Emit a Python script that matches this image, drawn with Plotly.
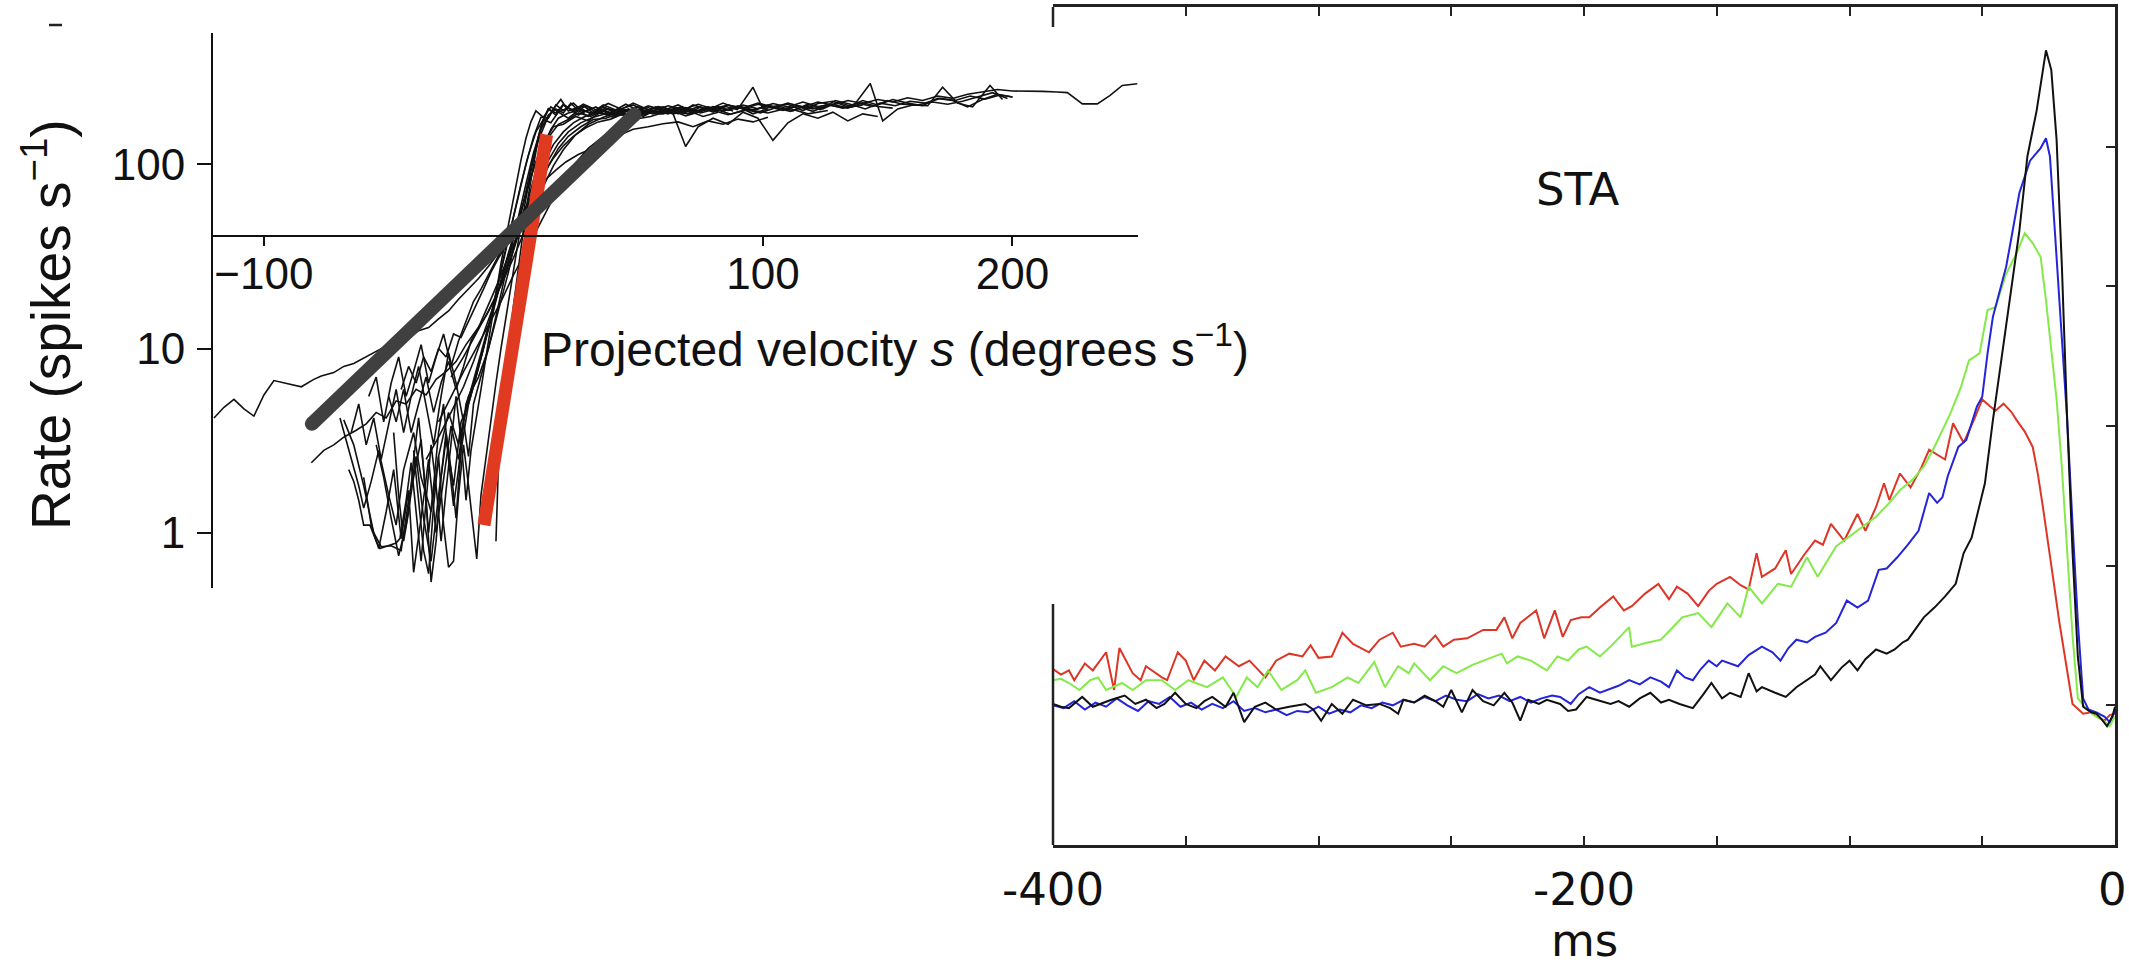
import plotly.graph_objects as go

W, H = 2129, 969

# ---------------- Left panel: rate (spikes/s) vs projected velocity s ----------------
TRACE_01 = [(-120, 4.2), (-116, 4.8), (-112, 5.3), (-108, 4.7), (-104, 4.3), (-100, 5.6), (-96, 6.7), (-92, 6.5),
            (-88, 6.3), (-85, 6.2), (-80, 6.8), (-77, 7.1), (-72, 7.4), (-68, 8.0), (-64, 8.3), (-59, 9.0),
            (-55, 9.6), (-50, 10.5), (-46, 11.0), (-42, 11.3), (-38, 12.5), (-34, 13.0), (-30, 14.5), (-26, 16),
            (-22, 18.5), (-18, 21), (-14, 24), (-10, 28), (-6, 33), (-2, 39), (2, 47), (6, 60), (10, 80),
            (14, 105), (18, 130), (22, 150), (27, 168), (32, 180), (38, 190), (44, 185), (50, 198), (56, 188),
            (62, 200), (68, 192), (74, 205), (80, 195), (86, 210), (92, 200), (98, 212), (104, 203), (110, 215),
            (116, 205), (122, 218), (128, 210), (134, 222), (140, 214), (146, 225), (152, 218), (158, 230),
            (164, 222), (170, 235), (176, 228), (182, 240), (188, 248), (194, 255), (200, 250), (206, 250),
            (212, 249), (218, 247), (222, 245), (228, 213), (234, 213), (239, 236), (244, 268), (250, 274)]
TRACE_02 = [(-81, 2.4), (-76, 2.8), (-72, 3.0), (-68, 3.3), (-63, 3.6), (-59, 3.9), (-55, 4.5), (-51, 4.2),
            (-47, 5.2), (-43, 5.0), (-39, 6.0), (-35, 5.6), (-31, 6.8), (-27, 7.5), (-23, 8.5), (-19, 10.5),
            (-15, 12.5), (-11, 15), (-7, 19), (-3, 26), (0, 34), (3, 46), (6, 65), (9, 92), (12, 125), (15, 155),
            (18, 178), (22, 190), (27, 198), (32, 188), (38, 200), (44, 192), (50, 205), (56, 195), (62, 208),
            (68, 198), (74, 212), (80, 200), (86, 210), (92, 202), (98, 215), (104, 205), (110, 212), (116, 196),
            (122, 214), (128, 220), (134, 205), (140, 222), (146, 210), (152, 225), (158, 215), (164, 208),
            (170, 228), (176, 222), (182, 205), (188, 225), (194, 240), (200, 232)]
TRACE_03 = [(-69.5, 4.2), (-66, 2.8), (-62, 1.8), (-60, 1.36), (-57, 1.9), (-54, 2.8), (-50, 1.6), (-47, 1.1),
            (-44, 2.2), (-40, 3.5), (-37, 2.0), (-33, 1.3), (-30, 2.6), (-26, 4.5), (-22, 3.0), (-18, 5.5),
            (-14, 7), (-10, 10), (-6, 16), (-2, 26), (1, 40), (4, 62), (7, 95), (10, 135), (13, 170), (16, 200),
            (19, 225), (22, 195), (26, 205), (31, 188), (36, 210), (42, 195), (48, 215), (54, 198), (60, 205),
            (66, 188), (72, 210), (78, 198), (84, 215), (90, 200), (96, 262), (100, 200), (106, 208), (112, 195),
            (118, 212), (124, 200), (130, 218), (136, 205), (143, 275), (148, 172), (154, 200), (160, 210),
            (166, 208), (172, 262), (178, 215), (184, 205), (191, 268), (196, 225)]
TRACE_04 = [(-68, 4.1), (-64, 3.0), (-60, 1.8), (-56, 1.0), (-53, 0.84), (-49, 0.85), (-45, 0.8), (-42, 1.5),
            (-39, 2.6), (-36, 1.2), (-33, 0.7), (-30, 1.6), (-27, 3.2), (-24, 1.8), (-21, 4.0), (-18, 5.0),
            (-15, 7), (-12, 10), (-8, 16), (-4, 26), (0, 40), (4, 62), (8, 95), (12, 130), (16, 160), (20, 165),
            (25, 182), (30, 172), (35, 192), (40, 180), (46, 196), (52, 185), (58, 200), (64, 188), (69, 125),
            (74, 160), (80, 178), (86, 165), (92, 192), (98, 178), (104, 135), (110, 168), (116, 188), (122, 178),
            (128, 192), (134, 172), (140, 188), (146, 182)]
TRACE_05 = [(-60, 2.0), (-57, 1.1), (-54, 0.82), (-51, 1.3), (-48, 2.2), (-45, 0.93), (-42, 1.7), (-40, 0.61),
            (-37, 1.2), (-34, 2.5), (-31, 1.0), (-28, 2.0), (-25, 3.8), (-22, 2.5), (-19, 5.0), (-16, 6.5),
            (-13, 9), (-10, 13), (-7, 20), (-4, 31), (-1, 45), (2, 68), (5, 100), (8, 140), (11, 180), (14, 178),
            (17, 210), (20, 196), (24, 215), (28, 192), (33, 205), (38, 188), (43, 200), (48, 192), (54, 208),
            (60, 196), (66, 210), (72, 192), (78, 204), (84, 195), (90, 206), (96, 188), (102, 200)]
TRACE_06 = [(-55, 3.0), (-52, 2.0), (-49, 1.2), (-46, 0.75), (-43, 1.1), (-40, 2.0), (-37, 3.2), (-35, 1.5),
            (-33, 0.54), (-31, 0.9), (-29, 2.0), (-27, 3.5), (-25, 2.2), (-23, 1.2), (-21, 2.8), (-18, 5.0),
            (-15, 7), (-12, 10), (-9, 15), (-6, 23), (-3, 35), (0, 52), (3, 78), (6, 112), (9, 150), (12, 175),
            (15, 168), (18, 192), (22, 178), (26, 196), (30, 182), (35, 200), (40, 188), (46, 196), (52, 182),
            (58, 200), (64, 188), (70, 196), (76, 182), (82, 192)]
TRACE_07 = [(-50, 5.5), (-47, 4.0), (-44, 6.0), (-41, 3.5), (-38, 5.0), (-35, 7.0), (-32, 4.5), (-29, 6.5),
            (-26, 8.5), (-23, 6.0), (-20, 8.0), (-17, 11), (-14, 13), (-11, 16), (-8, 20), (-5, 25), (-2, 32),
            (2, 42), (6, 56), (10, 75), (14, 98), (18, 122), (22, 142), (27, 160), (32, 175), (37, 178), (42, 188),
            (48, 182), (54, 195), (60, 188), (66, 200), (72, 190), (78, 202), (84, 195), (90, 204), (96, 196),
            (102, 210), (108, 200), (114, 206), (120, 194), (126, 210), (132, 203), (138, 215), (144, 206),
            (150, 222), (156, 212), (162, 210), (168, 218), (174, 212), (180, 220), (186, 232), (192, 245),
            (198, 228)]
TRACE_08 = [(-45, 6.0), (-42, 8.0), (-39, 6.5), (-36, 9.0), (-33, 7.5), (-30, 10), (-27, 9), (-24, 12),
            (-21, 11.5), (-18, 14), (-15, 17), (-12, 21), (-9, 26), (-6, 31), (-2, 38), (2, 47), (6, 57),
            (10, 70), (13, 83), (17, 93), (21, 103), (26, 113), (31, 121), (36, 132), (42, 143), (48, 155),
            (54, 160), (60, 166), (66, 170), (72, 160), (78, 172), (84, 165), (90, 176), (96, 170), (102, 180)]
TRACE_09 = [(-40, 2.8), (-38, 1.5), (-36, 0.8), (-34, 0.6), (-32, 1.4), (-30, 2.6), (-28, 1.1), (-26, 0.65),
            (-24, 0.7), (-22, 1.6), (-20, 3.0), (-18, 1.8), (-16, 1.0), (-14.7, 0.72), (-13, 1.6), (-11, 2.6),
            (-9, 4.0), (-7, 6.5), (-5, 10), (-3, 15), (-1, 22), (1, 32), (3, 46), (5, 66), (7, 92), (9, 125),
            (11, 160), (14, 200), (17, 190), (20, 212), (24, 195), (28, 208), (32, 190), (36, 205), (40, 194),
            (45, 212), (50, 196), (55, 206), (60, 192), (65, 202), (70, 188), (75, 205), (80, 192), (85, 206),
            (90, 198)]
TRACE_10 = [(-65, 3.5), (-62, 5.0), (-59, 3.0), (-56, 4.2), (-53, 2.5), (-50, 3.8), (-47, 6.0), (-44, 3.5),
            (-41, 5.5), (-38, 8.0), (-35, 5.0), (-32, 3.0), (-29, 5.5), (-26, 9.5), (-23, 6.5), (-20, 4.0),
            (-17, 6.0), (-14, 8.5), (-11, 12), (-8, 17), (-5, 24), (-2, 33), (1, 45), (4, 62), (7, 85), (10, 112),
            (14, 140), (18, 165), (22, 175), (26, 190), (31, 182), (36, 196), (41, 185), (46, 200), (51, 190),
            (57, 205), (63, 194), (69, 203), (75, 190), (81, 200), (87, 187), (93, 198), (99, 190), (105, 203),
            (111, 194), (117, 208), (123, 198), (129, 222), (135, 212), (141, 200), (147, 215), (153, 208),
            (159, 220), (165, 215), (171, 228), (177, 222), (183, 235), (189, 226), (195, 238), (200, 232)]
TRACE_11 = [(-58, 5.5), (-55, 7.0), (-52, 4.0), (-49, 6.5), (-46, 9.0), (-43, 5.5), (-40, 7.5), (-37, 10.5),
            (-34, 6.5), (-31, 9.0), (-28, 12), (-25, 8.0), (-22, 11), (-19, 14), (-16, 18), (-13, 21), (-10, 25),
            (-7, 30), (-4, 36), (0, 44), (4, 55), (8, 70), (12, 88), (16, 108), (20, 126), (24, 142), (29, 158),
            (34, 170), (39, 176), (44, 188), (50, 184), (56, 196), (62, 188), (68, 202), (74, 192), (80, 206),
            (86, 196), (92, 210), (98, 200), (104, 214), (110, 205), (116, 218), (122, 206), (128, 212),
            (134, 202), (140, 216), (146, 206), (152, 202)]
TRACE_12 = [(-48, 3.5), (-46, 1.6), (-44, 0.9), (-42, 1.3), (-40, 2.5), (-38, 4.2), (-36, 2.2), (-34, 1.0),
            (-32, 1.8), (-30, 3.5), (-28, 5.0), (-26, 2.5), (-24, 1.4), (-22, 2.2), (-20, 4.0), (-18, 2.6),
            (-16, 5.0), (-13, 7), (-10, 10), (-7, 15), (-4, 23), (-1, 35), (2, 52), (5, 78), (8, 115), (11, 155),
            (14, 185), (17, 200), (20, 190), (23, 215), (26, 196), (29, 208), (33, 192), (37, 202), (41, 188),
            (45, 198), (49, 185), (54, 196), (59, 188), (64, 195), (69, 183), (74, 192)]
TRACE_13 = [(-7, 0.9), (-6.5, 1.6), (-6, 2.4), (-5, 3.5), (-3.5, 6), (-2, 10), (0, 17), (2, 28), (4, 44),
            (6, 68), (8, 100), (10, 140), (12, 175), (14, 200), (17, 185), (20, 210), (24, 196), (28, 212),
            (33, 198), (38, 214), (43, 200), (48, 210), (53, 194), (58, 206), (63, 198), (68, 206)]
TRACE_14 = [(-66, 2.2), (-64, 1.9), (-62, 1.5), (-60, 1.1), (-57.5, 1.1), (-55, 0.9), (-53.5, 0.82), (-50, 0.85),
            (-47, 0.88), (-45.5, 0.93), (-43, 1.5), (-41, 2.4), (-39, 1.3), (-37, 0.7), (-35, 1.5), (-33, 3.0),
            (-31, 1.8), (-29, 0.9), (-27, 1.7), (-25, 3.2), (-23, 5.5), (-21, 3.2), (-19, 1.5), (-17, 2.8),
            (-15, 4.0), (-13, 6.0), (-11, 9), (-9, 13.5), (-7, 20), (-5, 29), (-3, 40), (-1, 56), (1, 78),
            (3, 105), (5, 138), (7, 170), (9, 195), (12, 180), (15, 205), (18, 192), (22, 202), (26, 185),
            (30, 198)]
TRACE_15 = [(-30, 4), (-25, 5.5), (-20, 7.5), (-15, 10), (-10, 13.5), (-5, 18), (0, 25), (5, 34), (10, 46),
            (15, 62), (20, 82), (25, 102), (30, 122), (36, 142), (42, 160), (48, 175), (55, 182), (62, 195),
            (70, 188), (78, 200), (86, 186), (94, 198), (102, 190), (110, 202), (118, 188), (126, 196)]
TRACE_16 = [(-25, 7), (-20, 9), (-15, 12), (-10, 16), (-5, 22), (0, 31), (4, 42), (8, 57), (12, 76), (16, 98),
            (20, 120), (25, 145), (30, 165), (36, 180), (42, 192), (48, 186), (54, 198), (60, 190), (66, 202),
            (72, 192), (78, 205), (84, 195), (90, 208), (96, 198), (102, 206), (108, 196), (114, 208), (120, 200),
            (126, 212), (132, 202), (140, 210)]
TRACE_17 = [(-35, 2.5), (-30, 3.3), (-25, 4.5), (-20, 6.2), (-16, 8.5), (-12, 12), (-8, 17), (-4, 25), (0, 36),
            (4, 52), (8, 74), (12, 100), (16, 128), (20, 150), (24, 168), (28, 180), (33, 192), (38, 185),
            (44, 198), (50, 190), (56, 202), (62, 192), (68, 204), (75, 194), (82, 206), (88, 195)]

BLACK_TRACES = [TRACE_01, TRACE_02, TRACE_03, TRACE_04, TRACE_05, TRACE_06, TRACE_07, TRACE_08, TRACE_09,
                TRACE_10, TRACE_11, TRACE_12, TRACE_13, TRACE_14, TRACE_15, TRACE_16, TRACE_17]

RED_FIT = [(-11.8, 1.1), (13.3, 145)]
GRAY_FIT = [(-80.8, 3.9), (48.5, 186)]

LEFT_XTICKS = [-100, 100, 200]
LEFT_XTICK_TEXT = ["\u2212100", "100", "200"]
LEFT_YTICKS = [1, 10, 100]
LEFT_YTICK_TEXT = ["1", "10", "100"]

# ---------------- Right panel: STA (ms, arbitrary units) ----------------
STA_RED = [(-400, 1.26), (-397, 1.22), (-394, 1.25), (-392, 1.18), (-388, 1.30), (-385, 1.25), (-380, 1.38),
           (-377, 1.11), (-375, 1.41), (-370, 1.23), (-367, 1.18), (-365, 1.28), (-359, 1.20), (-357, 1.18),
           (-353, 1.38), (-350, 1.32), (-347, 1.18), (-343, 1.32), (-339, 1.25), (-335, 1.35), (-330, 1.28),
           (-326, 1.32), (-320, 1.20), (-316, 1.32), (-311, 1.37), (-306, 1.35), (-303, 1.43), (-300, 1.34),
           (-295, 1.35), (-291, 1.52), (-287, 1.44), (-281, 1.38), (-277, 1.47), (-272, 1.52), (-269, 1.42),
           (-264, 1.44), (-260, 1.42), (-256, 1.50), (-253, 1.42), (-249, 1.47), (-244, 1.48), (-238, 1.54),
           (-233, 1.54), (-230, 1.63), (-227, 1.48), (-224, 1.59), (-218, 1.68), (-215, 1.48), (-211, 1.68),
           (-208, 1.49), (-205, 1.61), (-201, 1.63), (-198, 1.63), (-194, 1.70), (-189, 1.78), (-185, 1.68),
           (-182, 1.71), (-177, 1.80), (-172, 1.87), (-168, 1.76), (-165, 1.85), (-161, 1.80), (-157, 1.71),
           (-153, 1.82), (-150, 1.87), (-145, 1.92), (-141, 1.86), (-138, 1.83), (-135, 2.09), (-133, 1.92),
           (-128, 1.98), (-124, 2.11), (-122, 1.94), (-117, 2.08), (-113, 2.18), (-110, 2.15), (-107, 2.30),
           (-102, 2.18), (-97, 2.37), (-94, 2.25), (-90, 2.42), (-87, 2.59), (-85, 2.47), (-81, 2.66),
           (-77, 2.56), (-73, 2.70), (-70, 2.83), (-64, 2.76), (-61, 3.02), (-57, 2.88), (-53, 3.05),
           (-50, 3.19), (-47, 3.14), (-45, 3.11), (-42, 3.16), (-39, 3.10), (-37, 3.04), (-34, 2.96),
           (-31, 2.85), (-29, 2.65), (-27, 2.40), (-25, 2.12), (-23, 1.87), (-21, 1.60), (-19, 1.35),
           (-16, 1.01), (-12, 0.94), (-9, 0.95), (-7, 0.92), (-4, 0.89), (-2, 0.93), (0, 0.94)]
STA_GREEN = [(-400, 1.18), (-397, 1.19), (-394, 1.16), (-390, 1.11), (-386, 1.18), (-383, 1.20), (-380, 1.11),
             (-374, 1.16), (-370, 1.11), (-365, 1.18), (-359, 1.18), (-354, 1.11), (-349, 1.18), (-342, 1.13),
             (-336, 1.20), (-331, 1.06), (-327, 1.20), (-323, 1.13), (-319, 1.25), (-314, 1.11), (-308, 1.18),
             (-305, 1.25), (-301, 1.09), (-295, 1.13), (-289, 1.20), (-285, 1.16), (-279, 1.31), (-275, 1.13),
             (-270, 1.28), (-266, 1.23), (-264, 1.30), (-258, 1.18), (-253, 1.28), (-248, 1.23), (-242, 1.29),
             (-238, 1.32), (-231, 1.37), (-229, 1.30), (-225, 1.35), (-220, 1.32), (-214, 1.25), (-210, 1.35),
             (-206, 1.32), (-202, 1.40), (-199, 1.42), (-194, 1.35), (-189, 1.44), (-183, 1.56), (-182, 1.42),
             (-176, 1.45), (-171, 1.47), (-167, 1.55), (-163, 1.63), (-157, 1.66), (-152, 1.56), (-146, 1.73),
             (-141, 1.63), (-138, 1.85), (-133, 1.73), (-127, 1.87), (-122, 1.85), (-116, 2.06), (-112, 1.92),
             (-105, 2.14), (-100, 2.21), (-95, 2.28), (-90, 2.35), (-85, 2.45), (-81, 2.54), (-76, 2.62),
             (-72, 2.71), (-68, 2.85), (-65, 2.97), (-62, 3.09), (-58, 3.28), (-55, 3.47), (-51, 3.52),
             (-48, 3.83), (-45, 3.85), (-41, 4.09), (-37, 4.24), (-34, 4.38), (-31, 4.31), (-28, 4.21),
             (-26, 3.90), (-24, 3.54), (-22, 3.19), (-20, 2.70), (-18, 2.10), (-16, 1.50), (-14, 1.05),
             (-11, 0.98), (-8, 0.93), (-5, 0.90), (-2, 0.85), (0, 0.92)]
STA_BLUE = [(-400, 1.00), (-396, 0.98), (-392, 1.03), (-388, 0.97), (-384, 1.02), (-380, 0.99), (-376, 1.05),
            (-372, 1.00), (-368, 0.96), (-364, 1.03), (-360, 1.01), (-356, 1.06), (-352, 0.99), (-348, 1.02),
            (-344, 0.97), (-340, 1.01), (-336, 0.98), (-332, 1.03), (-328, 0.96), (-324, 0.98), (-320, 0.95),
            (-316, 0.97), (-312, 0.93), (-308, 0.96), (-304, 0.95), (-300, 0.99), (-296, 0.94), (-292, 0.97),
            (-288, 0.95), (-284, 1.00), (-280, 0.98), (-276, 1.02), (-272, 1.00), (-268, 1.04), (-264, 1.02),
            (-260, 1.06), (-256, 1.03), (-252, 1.07), (-248, 1.04), (-244, 1.03), (-240, 1.08), (-236, 1.05),
            (-232, 1.07), (-228, 1.03), (-224, 1.06), (-220, 1.02), (-216, 1.05), (-212, 1.07), (-209, 1.06),
            (-205, 1.01), (-202, 1.08), (-198, 1.13), (-194, 1.09), (-191, 1.11), (-187, 1.14), (-183, 1.18),
            (-179, 1.15), (-175, 1.20), (-171, 1.17), (-168, 1.13), (-165, 1.25), (-162, 1.20), (-159, 1.18),
            (-156, 1.26), (-153, 1.32), (-150, 1.28), (-148, 1.32), (-142, 1.28), (-138, 1.36), (-133, 1.42),
            (-129, 1.38), (-126, 1.32), (-123, 1.41), (-120, 1.47), (-116, 1.45), (-113, 1.49), (-109, 1.52),
            (-105, 1.59), (-101, 1.75), (-97, 1.70), (-93, 1.75), (-89, 1.97), (-86, 1.98), (-82, 2.06),
            (-78, 2.15), (-74, 2.25), (-70, 2.52), (-67, 2.45), (-65, 2.49), (-63, 2.64), (-59, 2.85),
            (-56, 2.90), (-52, 3.14), (-50, 3.21), (-48, 3.52), (-46, 3.78), (-43, 4.00), (-41, 4.14),
            (-39, 4.35), (-36, 4.67), (-32, 4.90), (-28, 4.99), (-26, 5.06), (-24.5, 4.93), (-22.6, 4.38),
            (-20, 3.66), (-18, 3.04), (-16, 2.30), (-14, 1.60), (-12, 1.05), (-10, 0.97), (-7, 0.95),
            (-4, 0.92), (-2, 0.88), (0, 0.96)]
STA_BLACK = [(-400, 1.01), (-397, 0.99), (-394, 0.98), (-389, 1.06), (-385, 0.99), (-381, 1.02), (-378, 1.04),
             (-373, 1.07), (-369, 1.01), (-365, 1.04), (-361, 0.98), (-358, 1.01), (-354, 1.09), (-350, 1.01),
             (-346, 0.98), (-343, 1.03), (-340, 1.06), (-335, 0.99), (-332, 1.09), (-328, 0.88), (-324, 0.99),
             (-320, 1.02), (-316, 0.97), (-311, 0.99), (-305, 1.01), (-302, 0.97), (-299, 0.89), (-295, 1.01),
             (-291, 0.94), (-287, 1.04), (-282, 1.00), (-277, 1.01), (-273, 0.98), (-270, 0.94), (-268, 1.04),
             (-264, 1.02), (-260, 1.07), (-256, 1.03), (-253, 0.99), (-250, 1.11), (-246, 0.95), (-242, 1.11),
             (-238, 1.03), (-234, 1.00), (-230, 1.09), (-227, 1.02), (-224, 0.89), (-221, 1.04), (-217, 1.01),
             (-214, 1.04), (-209, 1.01), (-206, 0.96), (-203, 0.97), (-199, 1.06), (-195, 1.04), (-190, 1.01),
             (-187, 1.03), (-183, 0.99), (-179, 1.05), (-175, 1.09), (-171, 1.02), (-168, 1.04), (-164, 1.01),
             (-159, 0.98), (-155, 1.08), (-152, 1.16), (-148, 1.05), (-145, 1.09), (-141, 1.06), (-138, 1.23),
             (-135, 1.10), (-133, 1.13), (-128, 1.09), (-124, 1.06), (-120, 1.13), (-116, 1.18), (-113, 1.22),
             (-111, 1.28), (-107, 1.18), (-103, 1.27), (-100, 1.32), (-97, 1.25), (-94, 1.33), (-90, 1.40),
             (-86, 1.37), (-83, 1.40), (-80, 1.45), (-78, 1.47), (-75, 1.55), (-72, 1.63), (-68, 1.70),
             (-64, 1.78), (-60, 1.87), (-57, 2.09), (-54, 2.20), (-52, 2.35), (-49, 2.59), (-46, 3.04),
             (-43, 3.45), (-39.5, 3.90), (-36, 4.40), (-33, 4.93), (-29.5, 5.26), (-26, 5.69), (-24, 5.55),
             (-22, 5.05), (-20, 4.14), (-18, 3.04), (-16, 2.10), (-14, 1.35), (-12, 0.99), (-9, 0.95),
             (-7, 0.94), (-5, 0.90), (-3, 0.85), (-1, 0.92), (0, 0.99)]

RIGHT_XTICKS = [-400, -350, -300, -250, -200, -150, -100, -50, 0]
RIGHT_XLABEL_VALUES = [-400, -200, 0]
RIGHT_XLABEL_TEXT = ["-400", "-200", "0"]
RIGHT_YTICKS = [1, 2, 3, 4, 5]

# ---------------- geometry (pixels of the 2129 x 969 page) ----------------
L_X0, L_X1, L_Y0, L_Y1, L_XAXIS_Y = 213, 1138, 33, 588, 236
R_X0, R_X1, R_Y0, R_Y1 = 1053, 2115, 7, 845
L_XRANGE = [-120.4, 250.3]
R_XRANGE = [-400, 0]


def px_x(p):
    return p / W


def px_y(p):
    return 1 - p / H


fig = go.Figure()

for tr in BLACK_TRACES:
    fig.add_trace(go.Scatter(x=[p[0] for p in tr], y=[p[1] for p in tr], mode="lines",
                             line=dict(color="#111111", width=1.6), xaxis="x", yaxis="y",
                             hoverinfo="skip", showlegend=False))
fig.add_trace(go.Scatter(x=[p[0] for p in RED_FIT], y=[p[1] for p in RED_FIT], mode="lines",
                         line=dict(color="#e03a20", width=13), xaxis="x", yaxis="y",
                         hoverinfo="skip", showlegend=False))
fig.add_trace(go.Scatter(x=[p[0] for p in GRAY_FIT], y=[p[1] for p in GRAY_FIT], mode="lines+markers",
                         line=dict(color="#404040", width=14), marker=dict(color="#404040", size=14),
                         xaxis="x", yaxis="y", hoverinfo="skip", showlegend=False))

for data, color in [(STA_RED, "#dd3526"), (STA_GREEN, "#84ea4a"), (STA_BLUE, "#2424d8"), (STA_BLACK, "#111111")]:
    fig.add_trace(go.Scatter(x=[p[0] for p in data], y=[p[1] for p in data], mode="lines",
                             line=dict(color=color, width=2), xaxis="x2", yaxis="y2",
                             hoverinfo="skip", showlegend=False))

LEFT_FONT = "Liberation Sans, Arial, sans-serif"
RIGHT_FONT = "DejaVu Sans, sans-serif"

annotations = [
    dict(text="Rate (spikes s<sup>\u22121</sup>)", textangle=-90, x=px_x(47), y=px_y(325),
         xref="paper", yref="paper", xanchor="center", yanchor="middle", showarrow=False,
         font=dict(family=LEFT_FONT, size=55, color="#111111")),
    dict(text="Projected velocity <i>s</i> (degrees s<sup>\u22121</sup>)", x=px_x(539), y=px_y(346),
         xref="paper", yref="paper", xanchor="left", yanchor="middle", showarrow=False,
         font=dict(family=LEFT_FONT, size=48, color="#111111")),
    dict(text="STA", x=px_x(1578), y=px_y(190), xref="paper", yref="paper", xanchor="center",
         yanchor="middle", showarrow=False, font=dict(family=RIGHT_FONT, size=45, color="#111111")),
    dict(text="ms", x=px_x(1584), y=0, xref="paper", yref="paper", xanchor="center",
         yanchor="bottom", showarrow=False, font=dict(family=RIGHT_FONT, size=45, color="#111111")),
]
# tick labels of the STA time axis, placed at their data positions on x2
for val, txt in zip(RIGHT_XLABEL_VALUES, RIGHT_XLABEL_TEXT):
    annotations.append(dict(text=txt, x=val, xref="x2", y=px_y(889), yref="paper",
                            xanchor="right" if val == 0 else "center", yanchor="middle", showarrow=False,
                            xshift=14 if val == 0 else 0,
                            font=dict(family=RIGHT_FONT, size=45, color="#111111")))

fig.update_layout(
    width=W, height=H, margin=dict(l=0, r=0, t=0, b=0, pad=0, autoexpand=False),
    paper_bgcolor="white", plot_bgcolor="rgba(0,0,0,0)", showlegend=False,
    xaxis=dict(domain=[px_x(L_X0), px_x(L_X1)], range=L_XRANGE, anchor="free", position=px_y(L_XAXIS_Y),
               showline=True, linecolor="#111111", linewidth=2, ticks="outside", ticklen=9, tickwidth=2,
               tickcolor="#111111", tickvals=LEFT_XTICKS, ticktext=LEFT_XTICK_TEXT,
               tickfont=dict(family=LEFT_FONT, size=44, color="#111111"), ticklabelstandoff=-10,
               showgrid=False, zeroline=False, automargin=False),
    yaxis=dict(domain=[px_y(L_Y1), px_y(L_Y0)], type="log", range=[-0.300, 2.713], anchor="x",
               showline=True, linecolor="#111111", linewidth=2, ticks="outside", ticklen=14, tickwidth=2,
               tickcolor="#111111", tickvals=LEFT_YTICKS, ticktext=LEFT_YTICK_TEXT,
               tickfont=dict(family=LEFT_FONT, size=44, color="#111111"), ticklabelstandoff=3,
               showgrid=False, zeroline=False, automargin=False),
    xaxis2=dict(domain=[px_x(R_X0), px_x(R_X1)], range=R_XRANGE, anchor="y2",
                showline=True, mirror="ticks", linecolor="#222222", linewidth=2.5, ticks="inside", ticklen=9,
                tickwidth=2, tickcolor="#222222", tickvals=RIGHT_XTICKS, showticklabels=False,
                showgrid=False, zeroline=False, automargin=False),
    yaxis2=dict(domain=[px_y(R_Y1), px_y(R_Y0)], range=[0, 6], anchor="x2", side="right",
                showline=True, linecolor="#222222", linewidth=2.5, ticks="inside", ticklen=9, tickwidth=2,
                tickcolor="#222222", tickvals=RIGHT_YTICKS, showticklabels=False,
                showgrid=False, zeroline=False, automargin=False),
    shapes=[
        dict(type="line", xref="paper", yref="paper", x0=px_x(R_X0), x1=px_x(R_X0), y0=px_y(R_Y0), y1=px_y(27),
             line=dict(color="#222222", width=2.5)),
        dict(type="line", xref="paper", yref="paper", x0=px_x(R_X0), x1=px_x(R_X0), y0=px_y(604), y1=px_y(R_Y1),
             line=dict(color="#222222", width=2.5)),
        dict(type="line", xref="paper", yref="paper", x0=px_x(49), x1=px_x(62), y0=px_y(25), y1=px_y(25),
             line=dict(color="#222222", width=2.5)),
    ],
    annotations=annotations,
)

fig.write_html("out.html")
